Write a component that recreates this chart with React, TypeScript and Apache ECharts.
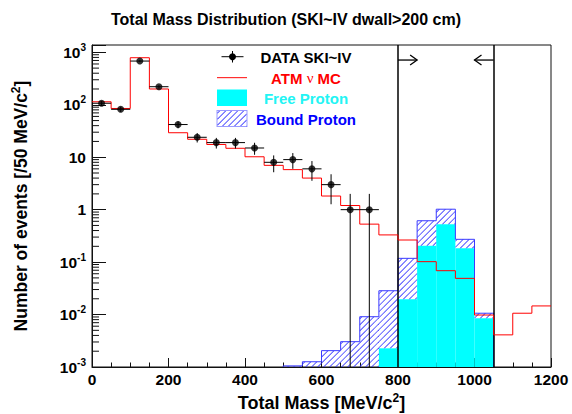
import React, { useEffect, useRef } from 'react';
import * as echarts from 'echarts';

const BIN = 50;
const Y_MIN = 0.001;
const Y_MAX = 1380;
const X_MIN = 0;
const X_MAX = 1200;

// DATA SKI~IV (bin centres, counts)
const dataCenters = [25, 75, 125, 175, 225, 275, 325, 375, 425, 475, 525, 575, 625, 675, 725];
const dataCounts = [107, 82, 682, 221, 42, 24, 19, 19, 15, 8, 9, 6, 3, 1, 1];

// ATM nu MC (bin low edges, contents)
const mcEdges = [0, 50, 100, 150, 200, 250, 300, 350, 400, 450, 500, 550, 600, 650, 700, 750, 800, 850, 900, 950, 1000, 1050, 1100, 1150];
const mcValues = [114, 85, 789, 200, 29.3, 22, 17.5, 14.8, 10.2, 7.0, 5.8, 4.0, 1.82, 1.2, 0.53, 0.33, 0.264, 0.102, 0.0686, 0.049, 0.0098, 0.0041, 0.0106, 0.0146];

// Free proton (bin low edges, contents)
const freeEdges = [750, 800, 850, 900, 950, 1000];
const freeValues = [0.00227, 0.0195, 0.206, 0.53, 0.183, 0.0085];

// Bound proton, stacked on free proton (bin low edges, contents)
const boundEdges = [500, 550, 600, 650, 700, 750, 800, 850, 900, 950, 1000];
const boundValues = [0.00105, 0.00126, 0.00205, 0.00304, 0.0091, 0.0262, 0.0985, 0.409, 0.49, 0.089, 0.0021];

// Signal-region cut
const cutLines = [800, 1050];
const cutArrowEnds = [850, 1000];
const cutArrowLevel = 713;

// Axis ticks
const xTickInterval = 200;
const yDecades = [-3, -2, -1, 0, 1, 2, 3];

const FONT = 'Liberation Sans, Arial, Helvetica, sans-serif';
const HATCH_COLOR = '#3a3aff';

function seg(x1: number, y1: number, x2: number, y2: number, color: string, width = 1) {
  return {
    type: 'polyline',
    shape: { points: [[x1, y1], [x2, y2]] },
    style: { stroke: color, lineWidth: width, fill: 'none' },
  };
}

// hatch lines drawn as thin filled bands so that the colour is carried by fill
function hatchLines(l: number, t: number, r: number, b: number, spacing: number) {
  const out: any[] = [];
  const w = 1.15;
  const kStart = Math.ceil((l + t) / spacing);
  const kEnd = Math.floor((r + b + w) / spacing);
  for (let k = kStart; k <= kEnd; k++) {
    const c = k * spacing;
    const pts: number[][] = [];
    const xa = Math.max(l, c - b);
    const xb = Math.min(r, c - t);
    const xa2 = Math.max(l, c + w - b);
    const xb2 = Math.min(r, c + w - t);
    if (xb2 - xa < 0.3) continue;
    if (xb >= xa) {
      pts.push([xa, c - xa]);
      pts.push([xb, c - xb]);
    } else {
      pts.push([l, Math.min(b, c - l)]);
    }
    if (xb < r && xb2 > xb) pts.push([xb2, t]);
    else if (xb >= r) pts.push([r, c + w - r]);
    pts.push([xb2, c + w - xb2]);
    pts.push([xa2, c + w - xa2]);
    if (xa2 > xa && xa === c - b) pts.push([xa, b]);
    out.push({ type: 'polygon', shape: { points: pts }, style: { fill: HATCH_COLOR } });
  }
  return out;
}

function freeAt(edge: number) {
  const i = freeEdges.indexOf(edge);
  return i >= 0 ? freeValues[i] : 0;
}

export default function App() {
  const ref = useRef<HTMLDivElement>(null);

  useEffect(() => {
    if (!ref.current) return;
    const chart = echarts.init(ref.current, undefined, { renderer: 'svg' });

    const minorY: number[] = [];
    for (let i = 0; i < yDecades.length - 1; i++) {
      for (let m = 2; m <= 9; m++) minorY.push(m * Math.pow(10, yDecades[i]));
    }

    const mcStep = mcEdges.map((e, i) => [e, mcValues[i]]);
    mcStep.push([mcEdges[mcEdges.length - 1] + BIN, mcValues[mcValues.length - 1]]);

    const freeData = freeEdges.map((e, i) => [e, Y_MIN, freeValues[i]]);
    const boundData = boundEdges.map((e, i) => {
      const base = freeAt(e);
      return [e, base > 0 ? base : Y_MIN, base + boundValues[i]];
    });

    const supStyle = { fontSize: 10, fontWeight: 'bold', fontFamily: FONT, color: '#000', verticalAlign: 'top', lineHeight: 10 };
    const baseStyle = { fontSize: 15.5, fontWeight: 'bold', fontFamily: FONT, color: '#000', lineHeight: 20 };
    const titleBase = { fontSize: 18, fontWeight: 'bold', fontFamily: FONT, color: '#000', lineHeight: 22 };
    const titleSup = { fontSize: 12, fontWeight: 'bold', fontFamily: FONT, color: '#000', verticalAlign: 'top', lineHeight: 12 };
    const yTitleBase = { fontSize: 17.5, fontWeight: 'bold', fontFamily: FONT, color: '#000', lineHeight: 22 };

    const legendX = 306;

    const option: any = {
      animation: false,
      backgroundColor: '#fff',
      title: {
        text: 'Total Mass Distribution (SKI~IV dwall>200 cm)',
        left: 'center',
        top: 6,
        textStyle: { fontSize: 16, fontWeight: 'bold', fontFamily: FONT, color: '#000' },
      },
      grid: {
        left: 92, right: 21, top: 45, bottom: 47,
        show: true, borderColor: '#111', borderWidth: 1,
        containLabel: false, outerBoundsMode: 'none',
      },
      xAxis: {
        type: 'value',
        min: X_MIN, max: X_MAX, interval: xTickInterval,
        axisLine: { show: true, lineStyle: { color: '#111', width: 1 } },
        axisTick: { show: true, inside: true, length: 9, lineStyle: { color: '#111' } },
        minorTick: { show: true, splitNumber: 4, length: 4.5, lineStyle: { color: '#111' } },
        splitLine: { show: false },
        axisLabel: {
          margin: 4, fontSize: 15.5, fontWeight: 'bold', fontFamily: FONT, color: '#000',
          formatter: (v: number) => String(v),
        },
        name: '{t|Total Mass [MeV/c}{s|2}{t|]}',
        nameLocation: 'middle',
        nameGap: 18,
        nameTextStyle: { rich: { t: titleBase, s: titleSup } },
      },
      yAxis: {
        type: 'log',
        logBase: 10,
        min: Y_MIN, max: Y_MAX,
        axisLine: { show: true, lineStyle: { color: '#111', width: 1 } },
        axisTick: { show: true, inside: true, length: 14, lineStyle: { color: '#111' } },
        minorTick: { show: false },
        splitLine: { show: false },
        axisLabel: {
          margin: 6, fontSize: 15.5, fontWeight: 'bold', fontFamily: FONT, color: '#000',
          formatter: (v: number) => {
            const e = Math.log10(v);
            const r = Math.round(e);
            if (Math.abs(e - r) > 1e-6) return '';
            if (r === 0) return '{b|1}';
            if (r === 1) return '{b|10}';
            return '{b|10}{s|' + r + '}';
          },
          rich: { b: baseStyle, s: supStyle },
        },
        name: '{t|Number of events [/50 MeV/c}{s|2}{t|]}',
        nameLocation: 'middle',
        nameRotate: 90,
        nameGap: 60,
        nameTextStyle: { rich: { t: yTitleBase, s: titleSup } },
      },
      series: [
        {
          name: 'Free Proton',
          type: 'custom',
          clip: true,
          z: 2,
          data: freeData,
          renderItem: (params: any, api: any) => {
            const x0 = api.value(0), lo = api.value(1), hi = api.value(2);
            const a = api.coord([x0, hi]);
            const b = api.coord([x0 + BIN, lo]);
            return {
              type: 'rect',
              shape: { x: a[0], y: a[1], width: b[0] - a[0], height: b[1] - a[1] },
              style: { fill: '#00ffff', stroke: 'none' },
            };
          },
        },
        {
          name: 'Bound Proton',
          type: 'custom',
          clip: true,
          z: 3,
          data: boundData,
          renderItem: (params: any, api: any) => {
            const x0 = api.value(0), lo = api.value(1), hi = api.value(2);
            const a = api.coord([x0, hi]);
            const b = api.coord([x0 + BIN, lo]);
            return {
              type: 'group',
              children: hatchLines(a[0], a[1], b[0], b[1], 6),
            };
          },
        },
        {
          name: 'Bound outline',
          type: 'custom',
          clip: true,
          z: 4,
          data: [[boundEdges[0], Y_MIN]],
          renderItem: (params: any, api: any) => {
            const pts: number[][] = [];
            pts.push(api.coord([boundEdges[0], Y_MIN]));
            boundEdges.forEach((e, i) => {
              const top = freeAt(e) + boundValues[i];
              pts.push(api.coord([e, top]));
              pts.push(api.coord([e + BIN, top]));
            });
            pts.push(api.coord([boundEdges[boundEdges.length - 1] + BIN, Y_MIN]));
            return { type: 'polyline', shape: { points: pts }, style: { stroke: HATCH_COLOR, lineWidth: 1, fill: 'none' } };
          },
        },
        {
          name: 'ATM nu MC',
          type: 'line',
          step: 'end',
          z: 5,
          showSymbol: false,
          symbol: 'none',
          data: mcStep,
          lineStyle: { color: '#ff0000', width: 1 },
          markLine: {
            silent: true,
            symbol: ['none', 'none'],
            label: { show: false },
            lineStyle: { color: '#000', width: 1.5, type: 'solid' },
            data: cutLines.map((v) => ({ xAxis: v })),
          },
        },
        {
          name: 'DATA errors',
          type: 'custom',
          clip: true,
          z: 6,
          data: dataCenters.map((c, i) => [c, dataCounts[i]]),
          renderItem: (params: any, api: any) => {
            const x = api.value(0), n = api.value(1);
            const err = Math.sqrt(n);
            const pl = api.coord([x - BIN / 2, n]);
            const pr = api.coord([x + BIN / 2, n]);
            const pu = api.coord([x, n + err]);
            const pd = api.coord([x, Math.max(n - err, Y_MIN)]);
            return {
              type: 'group',
              children: [
                seg(pl[0], pl[1], pr[0], pr[1], '#000', 1),
                seg(pu[0], pu[1], pd[0], pd[1], '#000', 1),
              ],
            };
          },
        },
        {
          name: 'DATA SKI~IV',
          type: 'scatter',
          z: 7,
          symbol: 'circle',
          symbolSize: 7,
          itemStyle: { color: '#000' },
          data: dataCenters.map((c, i) => [c, dataCounts[i]]),
        },
        {
          name: 'Cut arrows',
          type: 'custom',
          z: 8,
          data: cutLines.map((v, i) => [v, cutArrowLevel, cutArrowEnds[i]]),
          renderItem: (params: any, api: any) => {
            const from = api.value(0), lvl = api.value(1), to = api.value(2);
            const p0 = api.coord([from, lvl]);
            const p1 = api.coord([to, lvl]);
            const dir = p1[0] > p0[0] ? 1 : -1;
            return {
              type: 'group',
              children: [
                seg(p0[0], p0[1], p1[0], p1[1], '#000', 1.3),
                {
                  type: 'polyline',
                  shape: { points: [[p1[0] - dir * 7, p1[1] - 5], [p1[0], p1[1]], [p1[0] - dir * 7, p1[1] + 5]] },
                  style: { stroke: '#000', lineWidth: 1.3, fill: 'none' },
                },
              ],
            };
          },
        },
        {
          name: 'Y minor ticks',
          type: 'custom',
          z: 9,
          silent: true,
          data: minorY.map((v) => [X_MIN, v]),
          renderItem: (params: any, api: any) => {
            const p = api.coord([api.value(0), api.value(1)]);
            return seg(p[0], p[1], p[0] + 7, p[1], '#111', 1);
          },
        },
      ],
      graphic: [
        { type: 'rect', shape: { x: 221.5, y: 56.2, width: 22, height: 1 }, style: { fill: '#000' } },
        { type: 'rect', shape: { x: 232, y: 51, width: 1, height: 11.5 }, style: { fill: '#000' } },
        { type: 'circle', shape: { cx: 232.5, cy: 56.7, r: 3.5 }, style: { fill: '#000' } },
        {
          type: 'text', x: legendX, y: 57,
          style: { text: 'DATA SKI~IV', fill: '#000', fontSize: 15, fontWeight: 'bold', fontFamily: FONT, align: 'center', verticalAlign: 'middle' },
        },
        { type: 'rect', shape: { x: 217, y: 77, width: 30, height: 1.2 }, style: { fill: '#ff3030' } },
        {
          type: 'text', x: legendX, y: 78,
          style: {
            text: '{t|ATM }{nu|ν}{t| MC}', align: 'center', verticalAlign: 'middle',
            rich: {
              t: { fill: '#ff0000', fontSize: 15, fontWeight: 'bold', fontFamily: FONT },
              nu: { fill: '#ff0000', fontSize: 15, fontWeight: 'normal', fontFamily: 'Liberation Serif, serif' },
            },
          },
        },
        { type: 'rect', shape: { x: 217, y: 89.5, width: 30, height: 16.5 }, style: { fill: '#00ffff' } },
        {
          type: 'text', x: legendX, y: 98.5,
          style: { text: 'Free Proton', fill: '#22f4f4', fontSize: 15, fontWeight: 'bold', fontFamily: FONT, align: 'center', verticalAlign: 'middle' },
        },
        { type: 'rect', shape: { x: 216.5, y: 110, width: 31, height: 17 }, style: { fill: '#9a9aff' } },
        { type: 'rect', shape: { x: 217.5, y: 111, width: 29, height: 15 }, style: { fill: '#ffffff' } },
        ...hatchLines(217.5, 111, 246.5, 126, 6),
        {
          type: 'text', x: legendX, y: 119.5,
          style: { text: 'Bound Proton', fill: '#0000ff', fontSize: 15, fontWeight: 'bold', fontFamily: FONT, align: 'center', verticalAlign: 'middle' },
        },
      ],
    };

    chart.setOption(option);
    return () => chart.dispose();
  }, []);

  return <div ref={ref} style={{ position: 'fixed', left: 0, top: 0, width: 572, height: 414 }} />;
}
